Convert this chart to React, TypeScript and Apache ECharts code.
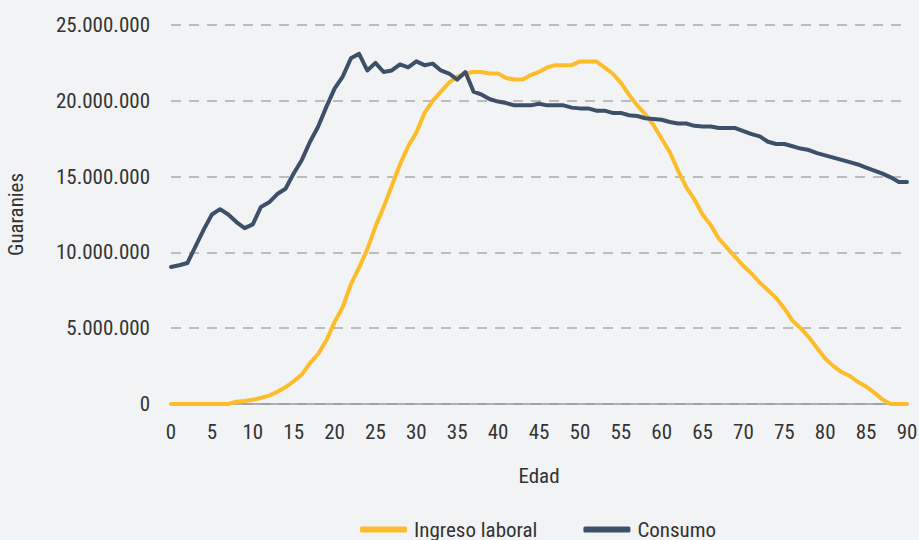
import React, { useEffect, useRef } from "react";
import * as echarts from "echarts";

const ages: number[] = Array.from({ length: 91 }, (_, i) => i);

const ingresoLaboral: number[] = [
  0, 0, 0, 0, 0, 0, 0, 0, 0.15, 0.2,
  0.28, 0.4, 0.55, 0.8, 1.1, 1.5, 1.95, 2.7, 3.3, 4.2,
  5.4, 6.4, 7.9, 9.0, 10.2, 11.7, 13.0, 14.4, 15.8, 17.0,
  17.9, 19.2, 20.0, 20.6, 21.2, 21.6, 21.8, 21.9, 21.9, 21.8,
  21.8, 21.5, 21.4, 21.4, 21.7, 21.9, 22.2, 22.35, 22.35, 22.35,
  22.6, 22.6, 22.6, 22.2, 21.8, 21.2, 20.4, 19.7, 19.1, 18.4,
  17.5, 16.6, 15.4, 14.3, 13.5, 12.5, 11.8, 10.9, 10.3, 9.7,
  9.1, 8.6, 8.0, 7.5, 7.0, 6.3, 5.5, 5.0, 4.4, 3.7,
  3.0, 2.5, 2.1, 1.85, 1.45, 1.15, 0.75, 0.3, 0, 0,
  0,
];

const consumo: number[] = [
  9.04, 9.15, 9.3, 10.4, 11.5, 12.5, 12.85, 12.5, 12.0, 11.6,
  11.85, 13.0, 13.3, 13.85, 14.2, 15.2, 16.1, 17.3, 18.3, 19.6,
  20.8, 21.6, 22.8, 23.1, 22.0, 22.5, 21.9, 22.0, 22.4, 22.2,
  22.6, 22.35, 22.45, 22.0, 21.8, 21.4, 21.9, 20.6, 20.4, 20.1,
  19.95, 19.85, 19.7, 19.7, 19.7, 19.8, 19.7, 19.7, 19.7, 19.55,
  19.5, 19.5, 19.35, 19.35, 19.2, 19.2, 19.05, 19.0, 18.85, 18.8,
  18.75, 18.6, 18.5, 18.5, 18.35, 18.3, 18.3, 18.2, 18.2, 18.2,
  18.0, 17.8, 17.65, 17.3, 17.15, 17.15, 17.0, 16.85, 16.75, 16.55,
  16.4, 16.25, 16.1, 15.95, 15.8, 15.6, 15.4, 15.2, 14.95, 14.65,
  14.65,
];

const seriesNames = ["Ingreso laboral", "Consumo"];
const colors = ["#fdbd2a", "#3e5069"];

const FONT = "'Roboto Condensed', 'Liberation Sans Narrow', 'DejaVu Sans Condensed', Roboto, sans-serif";
const FS = 21;
const TXT = "#333";

function fmt(v: number): string {
  return Math.round(v).toString().replace(/\B(?=(\d{3})+(?!\d))/g, ".");
}

export default function App() {
  const ref = useRef<HTMLDivElement>(null);
  useEffect(() => {
    if (!ref.current) return;
    const chart = echarts.init(ref.current, null, { renderer: "svg" });
    const toPairs = (arr: number[]) => ages.map((a, i) => [a, arr[i] * 1e6]);
    chart.setOption({
      animation: false,
      backgroundColor: "#f2f3f5",
      textStyle: { fontFamily: FONT },
      grid: { left: 171, right: 12, top: 25, bottom: 136, containLabel: false, outerBoundsMode: "none" },
      legend: {
        top: 514,
        left: 355,
        icon: "roundRect",
        itemWidth: 47,
        itemHeight: 6,
        itemGap: 46,
        textStyle: { fontFamily: FONT, fontSize: FS, color: TXT, padding: [0, 0, 0, 2] },
        data: seriesNames,
      },
      xAxis: {
        type: "value",
        min: 0,
        max: 90,
        interval: 5,
        name: "Edad",
        nameLocation: "middle",
        nameGap: 61,
        nameTextStyle: { fontFamily: FONT, fontSize: FS, color: TXT },
        axisLine: { show: true, lineStyle: { color: "#999", width: 1.5 } },
        axisTick: { show: false },
        splitLine: { show: false },
        axisLabel: { fontFamily: FONT, fontSize: FS, color: TXT, margin: 17 },
      },
      yAxis: {
        type: "value",
        min: 0,
        max: 25000000,
        interval: 5000000,
        name: "Guaranies",
        nameLocation: "middle",
        nameGap: 145,
        nameRotate: 90,
        nameTextStyle: { fontFamily: FONT, fontSize: FS, color: TXT },
        axisLine: { show: false },
        axisTick: { show: false },
        splitLine: { show: true, lineStyle: { color: "#aaa", type: [10, 8], width: 1.5 } },
        axisLabel: { fontFamily: FONT, fontSize: FS, color: TXT, margin: 21, formatter: (v: number) => fmt(v) },
      },
      series: [
        {
          name: seriesNames[0],
          type: "line",
          data: toPairs(ingresoLaboral),
          showSymbol: false,
          symbol: "none",
          lineStyle: { width: 4, color: colors[0], cap: "round", join: "round" },
          itemStyle: { color: colors[0] },
          z: 2,
        },
        {
          name: seriesNames[1],
          type: "line",
          data: toPairs(consumo),
          showSymbol: false,
          symbol: "none",
          lineStyle: { width: 4, color: colors[1], cap: "round", join: "round" },
          itemStyle: { color: colors[1] },
          z: 3,
        },
      ],
    });
    return () => chart.dispose();
  }, []);
  return <div ref={ref} style={{ width: 919, height: 540, position: "absolute", left: 0, top: 0 }} />;
}
